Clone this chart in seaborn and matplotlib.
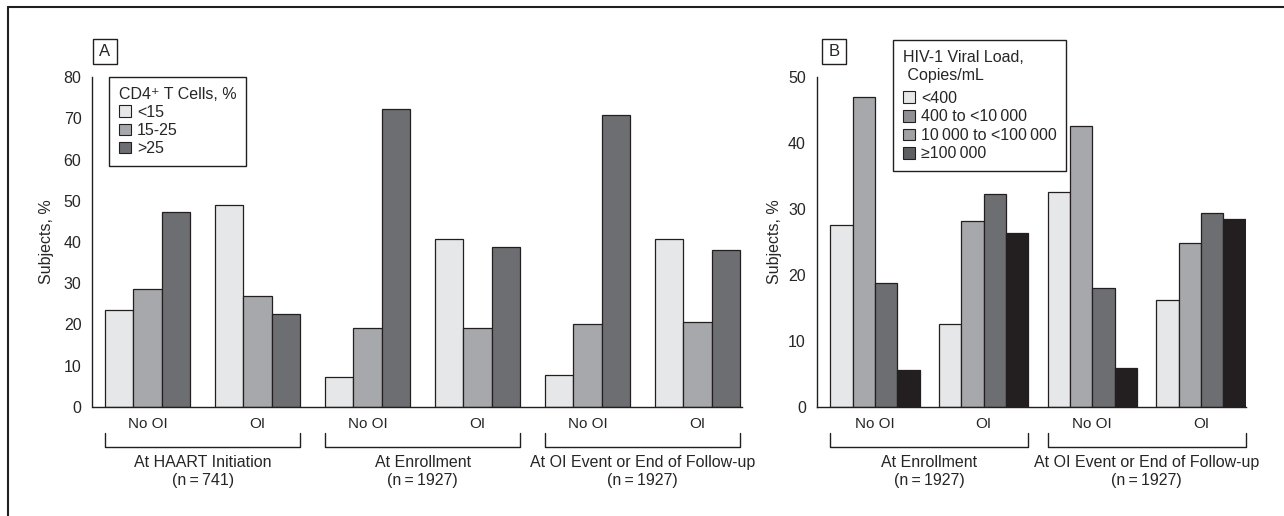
import numpy as np
import pandas as pd
import matplotlib
matplotlib.use('Agg')
import matplotlib.pyplot as plt
from matplotlib.patches import Patch, Rectangle
from matplotlib.lines import Line2D
import matplotlib.transforms as mtransforms
import seaborn as sns

# - data - #
# panel A: CD4+ T cells
groups_a = ['At HAART Initiation\n(n\u2009=\u2009741)', 'At Enrollment\n(n\u2009=\u20091927)',
            'At OI Event or End of Follow-up\n(n\u2009=\u20091927)']
cats_a = ['No OI', 'OI', 'No OI', 'OI', 'No OI', 'OI']
levels_a = ['<15', '15-25', '>25']
low_a = [23.5, 49.0, 7.3, 40.8, 7.8, 40.8]
mid_a = [28.5, 27.0, 19.2, 19.2, 20.2, 20.6]
high_a = [47.2, 22.6, 72.3, 38.9, 70.8, 38.0]

# panel B: HIV-1 viral load
groups_b = ['At Enrollment\n(n\u2009=\u20091927)', 'At OI Event or End of Follow-up\n(n\u2009=\u20091927)']
cats_b = ['No OI', 'OI', 'No OI', 'OI']
levels_b = ['<400', '400 to <10\u2009000', '10\u2009000 to <100\u2009000', '\u2265100\u2009000']
vl1_b = [27.6, 12.6, 32.5, 16.2]
vl2_b = [47.0, 28.2, 42.6, 24.8]
vl3_b = [18.8, 32.2, 18.1, 29.4]
vl4_b = [5.6, 26.4, 5.9, 28.5]

# colours
c_light, c_mid, c_dark, c_black = '#e6e7e8', '#a7a8ab', '#6d6e71', '#231f20'

sns.set_style('white')
plt.rcParams['font.family'] = ['Liberation Sans', 'DejaVu Sans']
plt.rcParams['font.size'] = 11

W, H = 1284, 516
fig = plt.figure(figsize=(W / 100, H / 100), dpi=100)
FS = 11


def px_axes(left, right, top, bottom):
    return fig.add_axes([left / W, 1 - bottom / H, (right - left) / W, (bottom - top) / H])


def long_form(cats, levels, series):
    rows = []
    for i, c in enumerate(cats):
        for lev, vals in zip(levels, series):
            rows.append({'pos': f'{i}', 'cat': c, 'level': lev, 'val': vals[i]})
    return pd.DataFrame(rows)


def style_axis(ax, ymax, ystep, cats, label_x):
    sns.despine(ax=ax, top=True, right=True)
    for s in ['left', 'bottom']:
        ax.spines[s].set_color('#231f20')
        ax.spines[s].set_linewidth(1.0)
    ax.set_ylim(0, ymax)
    ax.set_yticks(np.arange(0, ymax + 1, ystep))
    ax.tick_params(axis='y', direction='out', length=6, width=1, color='#231f20', pad=2, labelsize=FS + 0.5)
    ax.tick_params(axis='x', length=0, pad=7, labelsize=FS)
    ax.set_xticks(range(len(cats)))
    ax.set_xticklabels(cats)
    ax.set_xlabel('')
    ax.set_ylabel('Subjects, %', fontsize=FS + 0.5)
    ax.yaxis.set_label_coords(label_x, 0.5)


def brackets(ax, groups, width):
    trans = mtransforms.blended_transform_factory(ax.transData, ax.transAxes)
    for g, name in enumerate(groups):
        x0 = 2 * g - width / 2
        x1 = 2 * g + 1 + width / 2
        ax.add_line(Line2D([x0, x0, x1, x1], [-0.079, -0.121, -0.121, -0.079], transform=trans,
                           color='#231f20', lw=1.0, clip_on=False))
        ax.text((x0 + x1) / 2, -0.145, name, transform=trans, ha='center', va='top',
                fontsize=FS + 0.5, linespacing=1.25)


def panel_letter(x0, x1, y0, y1, letter):
    fig.add_artist(Rectangle((x0 / W, 1 - y1 / H), (x1 - x0) / W, (y1 - y0) / H,
                             transform=fig.transFigure, fill=False, ec='#231f20', lw=1.0))
    fig.text((x0 + x1) / 2 / W, 1 - (y0 + y1) / 2 / H, letter, ha='center', va='center', fontsize=FS + 1)


# ---- panel A ----
axA = px_axes(92.5, 741.5, 77, 407)
dfA = long_form(cats_a, levels_a, [low_a, mid_a, high_a])
wA = 0.777
sns.barplot(data=dfA, x='pos', y='val', hue='level', hue_order=levels_a,
            palette=[c_light, c_mid, c_dark], width=wA, edgecolor='#231f20', linewidth=0.9,
            saturation=1, legend=False, ax=axA)
style_axis(axA, 80, 10, cats_a, -0.059)
axA.set_xlim(-0.502, 5.398)
brackets(axA, groups_a, wA)
hA = [Patch(fc=c, ec='#231f20', lw=0.8) for c in [c_light, c_mid, c_dark]]
legA = axA.legend(hA, levels_a, title='CD4\u207a T Cells, %', loc='upper left',
                  bbox_to_anchor=((109 - 92.5) / 649, 1.0), borderaxespad=0, fancybox=False,
                  edgecolor='#231f20', framealpha=1, fontsize=FS + 0.5, title_fontsize=FS + 0.5,
                  handlelength=0.75, handleheight=0.75, handletextpad=0.4, labelspacing=0.2,
                  borderpad=0.6, alignment='left')
legA.get_frame().set_linewidth(1.0)

# ---- panel B ----
axB = px_axes(817, 1245.7, 77, 407)
dfB = long_form(cats_b, levels_b, [vl1_b, vl2_b, vl3_b, vl4_b])
wB = 0.82
sns.barplot(data=dfB, x='pos', y='val', hue='level', hue_order=levels_b,
            palette=[c_light, c_mid, c_dark, c_black], width=wB, edgecolor='#231f20', linewidth=0.9,
            saturation=1, legend=False, ax=axB)
style_axis(axB, 50, 10, cats_b, -0.082)
axB.set_xlim(-0.534, 3.411)
brackets(axB, groups_b, wB)
hB = [Patch(fc=c, ec='#231f20', lw=0.8) for c in [c_light, '#8f9093', '#a0a1a4', '#5e5f62']]
legB = axB.legend(hB, levels_b, title='HIV-1 Viral Load,\n Copies/mL', loc='upper left',
                  bbox_to_anchor=((893 - 817) / 428.7, (407 - 40) / 330), borderaxespad=0,
                  fancybox=False, edgecolor='#231f20', framealpha=1, fontsize=FS + 0.5,
                  title_fontsize=FS + 0.5, handlelength=0.75, handleheight=0.75, handletextpad=0.4,
                  labelspacing=0.22, borderpad=0.6, alignment='left')
legB.get_title().set_linespacing(1.25)
legB._legend_box.sep = 6
legB.get_frame().set_linewidth(1.0)

# panel letters and outer frame
panel_letter(93, 117, 39, 64, 'A')
panel_letter(822, 846, 39, 64, 'B')
fig.add_artist(Line2D([8 / W, 1], [1 - 7 / H, 1 - 7 / H], transform=fig.transFigure, color='#231f20', lw=1.5))
fig.add_artist(Line2D([8 / W, 8 / W], [0, 1 - 7 / H], transform=fig.transFigure, color='#231f20', lw=1.5))

fig.savefig('out.png', dpi=100, facecolor='white')
